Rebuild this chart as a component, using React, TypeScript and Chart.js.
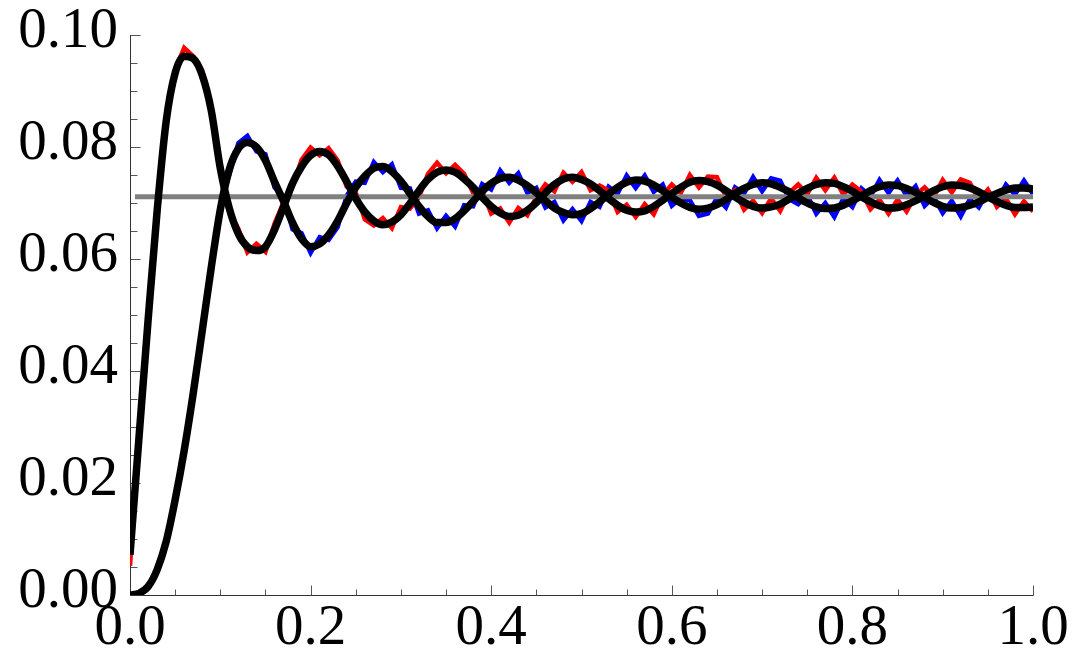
import React, { useEffect, useRef } from 'react';
import { Chart, registerables } from 'chart.js';

Chart.register(...registerables);

// sample positions
const xs = [
  0, 0.01, 0.02, 0.03, 0.04, 0.05, 0.06, 0.07, 0.08, 0.09,
  0.1, 0.11, 0.12, 0.13, 0.14, 0.15, 0.16, 0.17, 0.18, 0.19,
  0.2, 0.21, 0.22, 0.23, 0.24, 0.25, 0.26, 0.27, 0.28, 0.29,
  0.3, 0.31, 0.32, 0.33, 0.34, 0.35, 0.36, 0.37, 0.38, 0.39,
  0.4, 0.41, 0.42, 0.43, 0.44, 0.45, 0.46, 0.47, 0.48, 0.49,
  0.5, 0.51, 0.52, 0.53, 0.54, 0.55, 0.56, 0.57, 0.58, 0.59,
  0.6, 0.61, 0.62, 0.63, 0.64, 0.65, 0.66, 0.67, 0.68, 0.69,
  0.7, 0.71, 0.72, 0.73, 0.74, 0.75, 0.76, 0.77, 0.78, 0.79,
  0.8, 0.81, 0.82, 0.83, 0.84, 0.85, 0.86, 0.87, 0.88, 0.89,
  0.9, 0.91, 0.92, 0.93, 0.94, 0.95, 0.96, 0.97, 0.98, 0.99,
  1.0,
];

// smooth (black) curve 1
const smooth1 = [
  0.0072, 0.0282, 0.0490, 0.0685, 0.0845, 0.0932, 0.0962, 0.0958, 0.0928, 0.0865,
  0.0762, 0.0690, 0.0645, 0.0622, 0.0615, 0.0622, 0.0652, 0.0693, 0.0735, 0.0765,
  0.0785, 0.0792, 0.0786, 0.0766, 0.0738, 0.0708, 0.0684, 0.0668, 0.0661, 0.0666,
  0.0679, 0.0699, 0.0722, 0.0742, 0.0755, 0.0759, 0.0755, 0.0743, 0.0728, 0.0710,
  0.0694, 0.0682, 0.0676, 0.0678, 0.0687, 0.0701, 0.0718, 0.0733, 0.0743, 0.0746,
  0.0742, 0.0734, 0.0722, 0.0708, 0.0696, 0.0687, 0.0684, 0.0686, 0.0694, 0.0705,
  0.0717, 0.0728, 0.0737, 0.0740, 0.0738, 0.0732, 0.0722, 0.0711, 0.0701, 0.0694,
  0.0691, 0.0693, 0.0698, 0.0707, 0.0717, 0.0726, 0.0733, 0.0736, 0.0735, 0.0729,
  0.0721, 0.0711, 0.0702, 0.0695, 0.0691, 0.0692, 0.0697, 0.0704, 0.0713, 0.0722,
  0.0729, 0.0732, 0.0731, 0.0727, 0.0720, 0.0711, 0.0703, 0.0696, 0.0692, 0.0692,
  0.0693,
];

// smooth (black) curve 2
const smooth2 = [
  0.0000, 0.0003, 0.0015, 0.0045, 0.0095, 0.0170, 0.0258, 0.0360, 0.0472, 0.0585,
  0.0688, 0.0760, 0.0797, 0.0808, 0.0800, 0.0776, 0.0738, 0.0703, 0.0665, 0.0636,
  0.0622, 0.0627, 0.0643, 0.0668, 0.0700, 0.0728, 0.0748, 0.0762, 0.0765, 0.0756,
  0.0739, 0.0717, 0.0694, 0.0676, 0.0665, 0.0665, 0.0672, 0.0686, 0.0703, 0.0721,
  0.0735, 0.0744, 0.0746, 0.0741, 0.0731, 0.0718, 0.0704, 0.0691, 0.0683, 0.0679,
  0.0681, 0.0690, 0.0702, 0.0716, 0.0728, 0.0737, 0.0741, 0.0739, 0.0732, 0.0722,
  0.0710, 0.0700, 0.0692, 0.0689, 0.0691, 0.0697, 0.0706, 0.0717, 0.0726, 0.0733,
  0.0736, 0.0734, 0.0728, 0.0720, 0.0709, 0.0700, 0.0693, 0.0690, 0.0691, 0.0696,
  0.0704, 0.0713, 0.0722, 0.0729, 0.0732, 0.0731, 0.0726, 0.0719, 0.0710, 0.0701,
  0.0694, 0.0691, 0.0692, 0.0696, 0.0702, 0.0710, 0.0717, 0.0723, 0.0727, 0.0727,
  0.0725,
];

// noisy (red) series
const redSeries = [
  0.0052, 0.0285, 0.0488, 0.0689, 0.0842, 0.0938, 0.0977, 0.0962, 0.0937, 0.0860,
  0.0772, 0.0683, 0.0654, 0.0612, 0.0627, 0.0613, 0.0663, 0.0701, 0.0729, 0.0777,
  0.0799, 0.0785, 0.0798, 0.0776, 0.0729, 0.0719, 0.0671, 0.0660, 0.0673, 0.0655,
  0.0693, 0.0690, 0.0710, 0.0752, 0.0772, 0.0753, 0.0768, 0.0752, 0.0718, 0.0722,
  0.0681, 0.0690, 0.0665, 0.0691, 0.0678, 0.0711, 0.0733, 0.0721, 0.0754, 0.0738,
  0.0755, 0.0723, 0.0731, 0.0722, 0.0684, 0.0697, 0.0675, 0.0698, 0.0680, 0.0714,
  0.0733, 0.0718, 0.0750, 0.0728, 0.0747, 0.0746, 0.0711, 0.0723, 0.0688, 0.0704,
  0.0682, 0.0708, 0.0686, 0.0718, 0.0733, 0.0716, 0.0745, 0.0723, 0.0745, 0.0715,
  0.0733, 0.0720, 0.0689, 0.0706, 0.0681, 0.0706, 0.0685, 0.0714, 0.0728, 0.0711,
  0.0741, 0.0719, 0.0742, 0.0736, 0.0706, 0.0724, 0.0693, 0.0708, 0.0680, 0.0703,
  0.0685,
];

// noisy (blue) series
const blueSeries = [
  0.0000, 0.0002, 0.0017, 0.0042, 0.0099, 0.0166, 0.0263, 0.0354, 0.0479, 0.0579,
  0.0696, 0.0751, 0.0807, 0.0820, 0.0792, 0.0787, 0.0728, 0.0712, 0.0653, 0.0646,
  0.0611, 0.0639, 0.0634, 0.0657, 0.0713, 0.0738, 0.0736, 0.0773, 0.0755, 0.0769,
  0.0727, 0.0726, 0.0681, 0.0687, 0.0655, 0.0677, 0.0658, 0.0696, 0.0694, 0.0734,
  0.0724, 0.0758, 0.0736, 0.0753, 0.0718, 0.0727, 0.0692, 0.0702, 0.0669, 0.0689,
  0.0668, 0.0702, 0.0693, 0.0729, 0.0717, 0.0749, 0.0727, 0.0749, 0.0720, 0.0733,
  0.0695, 0.0709, 0.0705, 0.0677, 0.0681, 0.0709, 0.0692, 0.0728, 0.0717, 0.0746,
  0.0721, 0.0744, 0.0740, 0.0707, 0.0698, 0.0714, 0.0681, 0.0700, 0.0675, 0.0708,
  0.0693, 0.0726, 0.0712, 0.0741, 0.0718, 0.0740, 0.0713, 0.0730, 0.0695, 0.0711,
  0.0682, 0.0704, 0.0676, 0.0707, 0.0692, 0.0722, 0.0703, 0.0733, 0.0715, 0.0740,
  0.0716,
];

// horizontal reference line
const meanX = [0.0055, 1.0];
const meanY = [0.0711, 0.0711];

// ticks
const xTickValues = [0, 0.2, 0.4, 0.6, 0.8, 1.0];
const xTickLabels = ['0.0', '0.2', '0.4', '0.6', '0.8', '1.0'];
const yTickValues = [0, 0.02, 0.04, 0.06, 0.08, 0.1];
const yTickLabels = ['0.00', '0.02', '0.04', '0.06', '0.08', '0.10'];
const xMinorTicks = [0, 0.05, 0.1, 0.15, 0.2, 0.25, 0.3, 0.35, 0.4, 0.45, 0.5, 0.55, 0.6, 0.65, 0.7, 0.75, 0.8, 0.85, 0.9, 0.95, 1.0];
const yMinorTicks = [0, 0.005, 0.01, 0.015, 0.02, 0.025, 0.03, 0.035, 0.04, 0.045, 0.05, 0.055, 0.06, 0.065, 0.07, 0.075, 0.08, 0.085, 0.09, 0.095, 0.1];

const FONT = '"Liberation Serif", "Times New Roman", serif';

const axesPlugin = {
  id: 'mmaAxes',
  beforeDatasetsDraw(chart: any) {
    const { ctx, scales } = chart;
    const xs_ = scales.x;
    const ys_ = scales.y;
    const x0 = Math.round(xs_.getPixelForValue(0)) + 0.5;
    const y0 = Math.round(ys_.getPixelForValue(0)) + 0.5;
    const x1 = xs_.getPixelForValue(1);
    const yTop = ys_.getPixelForValue(0.1);
    ctx.save();
    ctx.lineWidth = 1;
    ctx.strokeStyle = '#555';
    ctx.beginPath();
    xMinorTicks.forEach((v) => {
      const major = xTickValues.some((m) => Math.abs(m - v) < 1e-9);
      const px = Math.round(xs_.getPixelForValue(v)) + 0.5;
      ctx.moveTo(px, y0);
      ctx.lineTo(px, y0 - (major ? 10 : 6));
    });
    yMinorTicks.forEach((v) => {
      const major = yTickValues.some((m) => Math.abs(m - v) < 1e-9);
      const py = Math.round(ys_.getPixelForValue(v)) + 0.5;
      ctx.moveTo(x0, py);
      ctx.lineTo(x0 + (major ? 10 : 7), py);
    });
    ctx.stroke();
    ctx.strokeStyle = '#333';
    ctx.beginPath();
    ctx.moveTo(x0, yTop);
    ctx.lineTo(x0, y0);
    ctx.lineTo(x1 + 0.5, y0);
    ctx.stroke();
    ctx.restore();
  },
};

const toPoints = (xv: number[], yv: number[]) => xv.map((x, i) => ({ x, y: yv[i] }));

export default function App() {
  const canvasRef = useRef<HTMLCanvasElement | null>(null);

  useEffect(() => {
    const canvas = canvasRef.current;
    if (!canvas) return;
    const chart = new Chart(canvas, {
      type: 'line',
      data: {
        datasets: [
          {
            data: toPoints(xs, smooth1),
            borderColor: '#000000',
            borderWidth: 7.5,
            pointRadius: 0,
            cubicInterpolationMode: 'monotone',
            fill: false,
          },
          {
            data: toPoints(xs, smooth2),
            borderColor: '#000000',
            borderWidth: 7.5,
            pointRadius: 0,
            cubicInterpolationMode: 'monotone',
            fill: false,
          },
          {
            data: toPoints(meanX, meanY),
            borderColor: '#808080',
            borderWidth: 5,
            pointRadius: 0,
            fill: false,
          },
          {
            data: toPoints(xs, redSeries),
            borderColor: '#ff0000',
            borderWidth: 4.5,
            pointRadius: 0,
            tension: 0,
            fill: false,
          },
          {
            data: toPoints(xs, blueSeries),
            borderColor: '#0000ff',
            borderWidth: 4.5,
            pointRadius: 0,
            tension: 0,
            fill: false,
          },
        ],
      } as any,
      options: {
        animation: false,
        responsive: false,
        devicePixelRatio: 1,
        events: [],
        layout: { padding: { left: 0, top: 35, right: 43, bottom: 0 } },
        plugins: { legend: { display: false }, tooltip: { enabled: false } },
        scales: {
          x: {
            type: 'linear',
            min: 0,
            max: 1,
            grid: { display: false, drawTicks: false },
            border: { display: false },
            afterBuildTicks: (s: any) => {
              s.ticks = xTickValues.map((v) => ({ value: v }));
            },
            afterFit: (s: any) => {
              s.height = 59;
              s.paddingLeft = 0;
              s.paddingRight = 0;
            },
            ticks: {
              autoSkip: false,
              maxRotation: 0,
              minRotation: 0,
              padding: 0,
              color: '#000000',
              font: { family: FONT, size: 57 },
              callback: (_v: any, i: number) => xTickLabels[i],
            },
          },
          y: {
            type: 'linear',
            min: 0,
            max: 0.1,
            grid: { display: false, drawTicks: false },
            border: { display: false },
            afterBuildTicks: (s: any) => {
              s.ticks = yTickValues.map((v) => ({ value: v }));
            },
            afterFit: (s: any) => {
              s.width = 130;
              s.paddingTop = 0;
              s.paddingBottom = 0;
            },
            ticks: {
              autoSkip: false,
              padding: 12,
              labelOffset: -3,
              color: '#000000',
              font: { family: FONT, size: 57 },
              callback: (_v: any, i: number) => yTickLabels[i],
            },
          },
        },
      } as any,
      plugins: [axesPlugin],
    });
    return () => chart.destroy();
  }, []);

  return (
    <div style={{ position: 'fixed', left: 0, top: 0, width: 1076, height: 654, background: '#fff' }}>
      <canvas ref={canvasRef} width={1076} height={654} />
    </div>
  );
}
